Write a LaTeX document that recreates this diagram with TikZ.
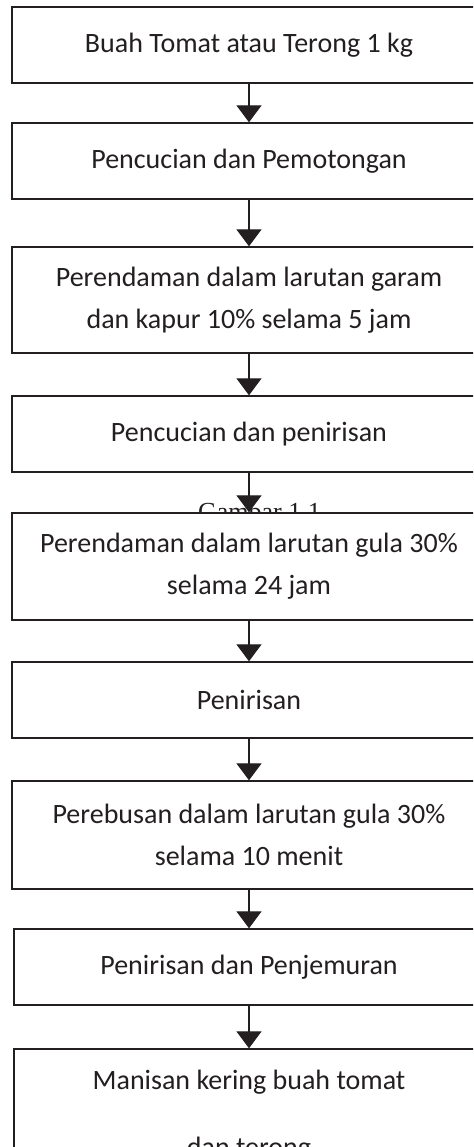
\documentclass[tikz,border=0pt]{standalone}
\usepackage{fontspec}
\setmainfont{Carlito}
\newfontfamily\captionfont{Liberation Serif}
\usetikzlibrary{arrows.meta}
\definecolor{ink}{HTML}{231F20}

\begin{document}
\begin{tikzpicture}[x=0.5pt,y=-0.5pt]
                \tikzstyle{box}=[rectangle,draw=ink,fill=white,line width=0.7pt,minimum width=237pt,inner sep=0pt,align=center,text=ink,font=\fontsize{14}{21}\selectfont]
                \tikzstyle{flow}=[draw=ink,line width=0.65pt,-{Triangle[width=12.5pt,length=8.5pt]}]
                \clip (0,0) rectangle (473,1147);
                \useasboundingbox (0,0) rectangle (473,1147);

                % caption of the page, hidden behind the fifth box
                \node[anchor=base,text=ink,font=\captionfont\fontsize{13}{15}\selectfont] (caption) at (259.5,520) {Gambar 1.1};

                \foreach \num/\y/\h/\txt in {1/45/38/{Buah Tomat atau Terong 1 kg}, 2/161/38/{Pencucian dan Pemotongan}, 3/300/53/{Perendaman dalam larutan garam\\dan kapur 10\% selama 5 jam}, 4/434/38/{Pencucian dan penirisan}, 5/566.5/53.5/{Perendaman dalam larutan gula 30\%\\selama 24 jam}, 6/700/38/{Penirisan}, 7/835/54/{Perebusan dalam larutan gula 30\%\\selama 10 menit}}
                        \node[box,minimum height=\h pt] (B-\num) at (249,\y) {\txt};
                \node[box,minimum height=38pt,minimum width=235pt] (B-8) at (249,967) {Penirisan dan Penjemuran};
                \node[box,minimum height=67pt,minimum width=235pt,font=\fontsize{14}{33.5}\selectfont] (B-9) at (249,1116) {Manisan kering buah tomat\\dan terong};

                \foreach \from/\to in {1/2, 2/3, 3/4, 4/5, 5/6, 6/7, 7/8, 8/9}
                        \draw[flow] (B-\from) -- (B-\to);
            \end{tikzpicture}
\end{document}
